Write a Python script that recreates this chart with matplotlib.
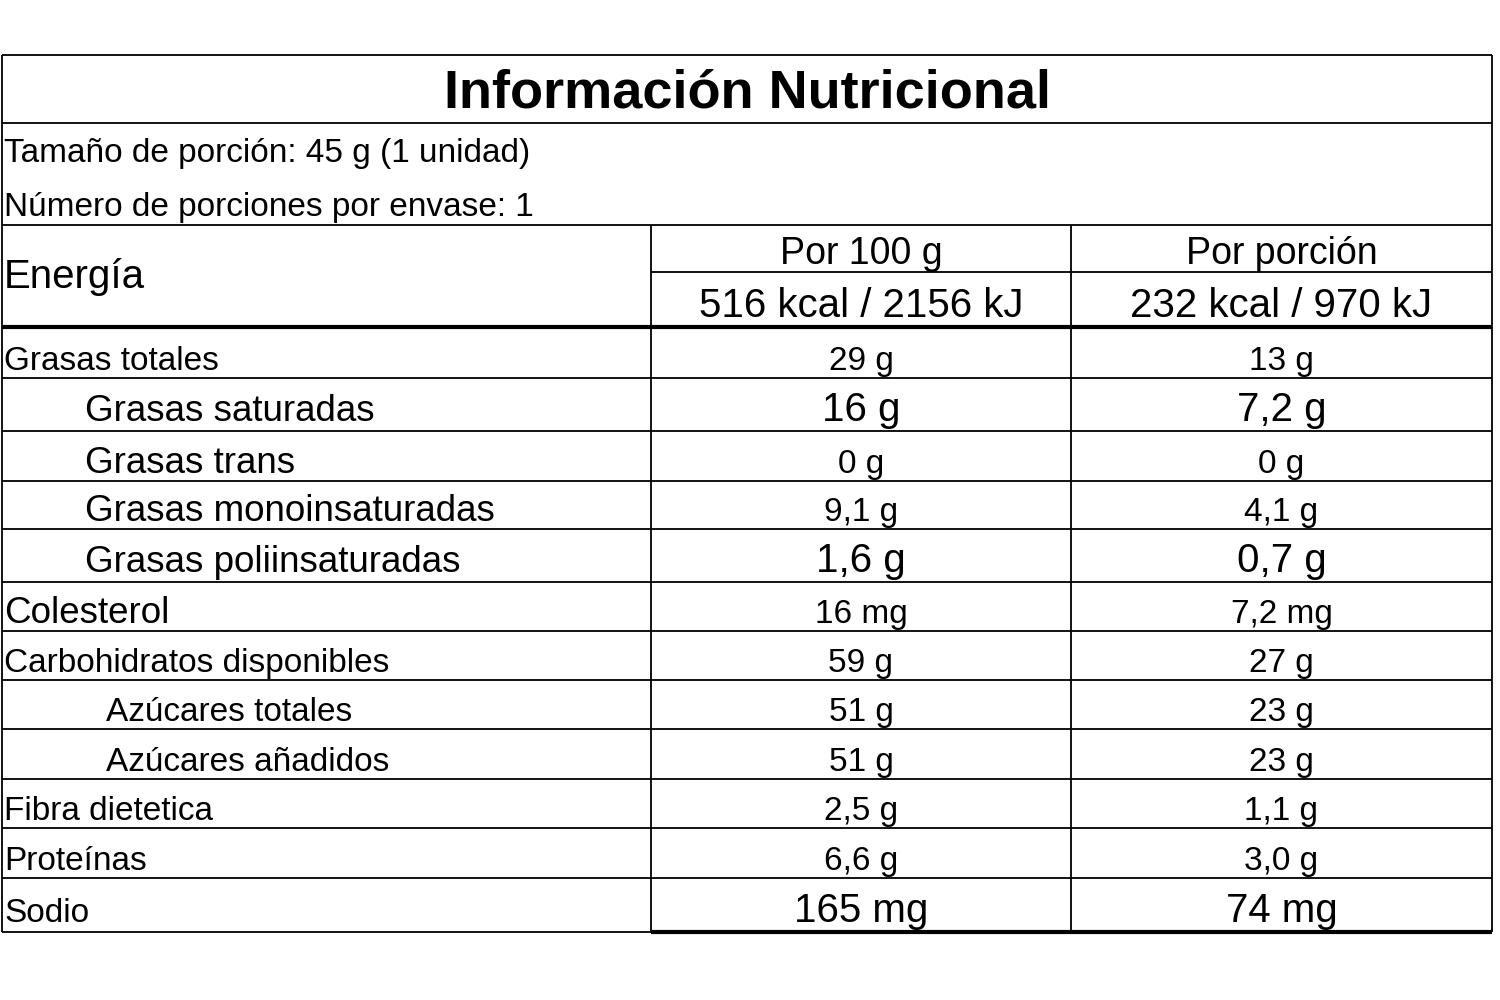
import matplotlib
matplotlib.use("Agg")
import matplotlib.pyplot as plt

plt.rcParams["font.family"] = "Liberation Sans"

title = "Información Nutricional"
serving = ["Tamaño de porción: 45 g (1 unidad)", "Número de porciones por envase: 1"]
col_heads = ["Por 100 g", "Por porción"]
energy = ["516 kcal / 2156 kJ", "232 kcal / 970 kJ"]
nutrients = ["Grasas totales", "Grasas saturadas", "Grasas trans", "Grasas monoinsaturadas",
             "Grasas poliinsaturadas", "Colesterol", "Carbohidratos disponibles",
             "Azúcares totales", "Azúcares añadidos", "Fibra dietetica", "Proteínas", "Sodio"]
per100 = ["29 g", "16 g", "0 g", "9,1 g", "1,6 g", "16 mg", "59 g", "51 g", "51 g", "2,5 g", "6,6 g", "165 mg"]
perportion = ["13 g", "7,2 g", "0 g", "4,1 g", "0,7 g", "7,2 mg", "27 g", "23 g", "23 g", "1,1 g", "3,0 g", "74 mg"]
level = [0, 1, 1, 1, 1, 0, 0, 2, 2, 0, 0, 0]
big_name = [False, True, True, True, True, True, False, False, False, False, False, False]
big_val = [False, True, False, False, True, False, False, False, False, False, False, True]

fig = plt.figure(figsize=(15, 10), dpi=100)
ax = fig.add_axes([0, 0, 1, 1])
ax.set_xlim(0, 1500); ax.set_ylim(1000, 0); ax.axis("off")

L, R, C1, C2 = 2, 1492, 651, 1071
def h(y, x0=L, x1=R, lw=1.3):
    ax.plot([x0, x1], [y, y], color="black", lw=lw, solid_capstyle="butt")
def v(x, y0, y1, lw=1.3):
    ax.plot([x, x], [y0, y1], color="black", lw=lw, solid_capstyle="butt")

h(55); h(123); h(225); h(272, C1, R); h(327, lw=3)
v(L, 55, 932); v(R, 55, 932)
v(C1, 225, 932); v(C2, 225, 932)

ax.text(747, 108, title, fontsize=39, fontweight="bold", ha="center", va="baseline")
ax.text(4, 162, serving[0], fontsize=24, va="baseline")
ax.text(4, 216, serving[1], fontsize=24, va="baseline")
ax.text(4, 288, "Energía", fontsize=29, va="baseline")
for i, xc in enumerate([(C1 + C2) / 2, (C2 + R) / 2]):
    ax.text(xc, 264, col_heads[i], fontsize=27, ha="center", va="baseline")
    ax.text(xc, 317, energy[i], fontsize=29, ha="center", va="baseline")

indent_px = {0: 4, 1: 85, 2: 106}
bottoms = [378, 431, 481, 529, 582, 631, 680, 729, 779, 828, 878, 932]
for i, name in enumerate(nutrients):
    yb = bottoms[i]
    if i < len(nutrients) - 1:
        h(yb)
    else:
        h(yb, L, C1)
        h(yb, C1, R, lw=3)
    base = yb - 10 if big_val[i] else yb - 8
    ax.text(indent_px[level[i]], base, name, fontsize=26.5 if big_name[i] else 24, va="baseline")
    vs = 29 if big_val[i] else 24
    ax.text((C1 + C2) / 2, base, per100[i], fontsize=vs, ha="center", va="baseline")
    ax.text((C2 + R) / 2, base, perportion[i], fontsize=vs, ha="center", va="baseline")

fig.savefig("out.png", dpi=100, facecolor="white")
